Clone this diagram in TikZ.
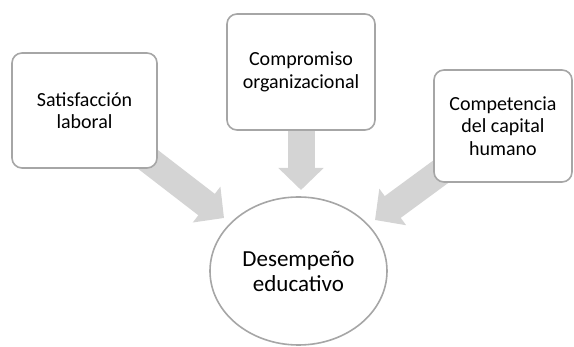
\documentclass[tikz,border=0pt]{standalone}
\usepackage{fontspec}
\setmainfont{Carlito}
\usetikzlibrary{arrows.meta,backgrounds,shapes.geometric}
\definecolor{boxline}{HTML}{A6A6A6}
\definecolor{arrowfill}{HTML}{D4D4D4}
\tikzset{
	factor/.style={draw=boxline, line width=1.6pt, fill=white, rounded corners=10pt, align=center, inner sep=0pt, font=\fontsize{20}{22.5}\selectfont},
	result/.style={draw=boxline, line width=1.6pt, fill=white, ellipse, align=center, inner sep=0pt, font=\fontsize{23}{25}\selectfont},
	bigarrow/.style={draw=arrowfill, line width=27pt, -{Triangle[width=44pt,length=22pt]}}
}
\begin{document}
\begin{tikzpicture}[x=1pt, y=-1pt]
	\useasboundingbox (0,0) rectangle (574,347);
	\node[factor, minimum width=145, minimum height=115] (satisfaccion) at (84.5,110.5) {Satisfacción\\laboral};
	\node[factor, minimum width=148, minimum height=116] (compromiso) at (301,72) {Compromiso\\organizacional};
	\node[factor, minimum width=138, minimum height=112] (competencia) at (503,126) {Competencia\\del capital\\humano};
	\node[result, minimum width=177, minimum height=148] (desempeno) at (298.5,271) {Desempeño\\educativo};
	\coordinate (tipsat) at (224,218);
	\coordinate (tipcom) at (301,190);
	\coordinate (tipcap) at (375,220);
	\begin{scope}[on background layer]
		\draw[bigarrow] (satisfaccion.center) -- (tipsat);
		\draw[bigarrow] (compromiso.center) -- (tipcom);
		\draw[bigarrow] (competencia.center) -- (tipcap);
	\end{scope}
\end{tikzpicture}
\end{document}
